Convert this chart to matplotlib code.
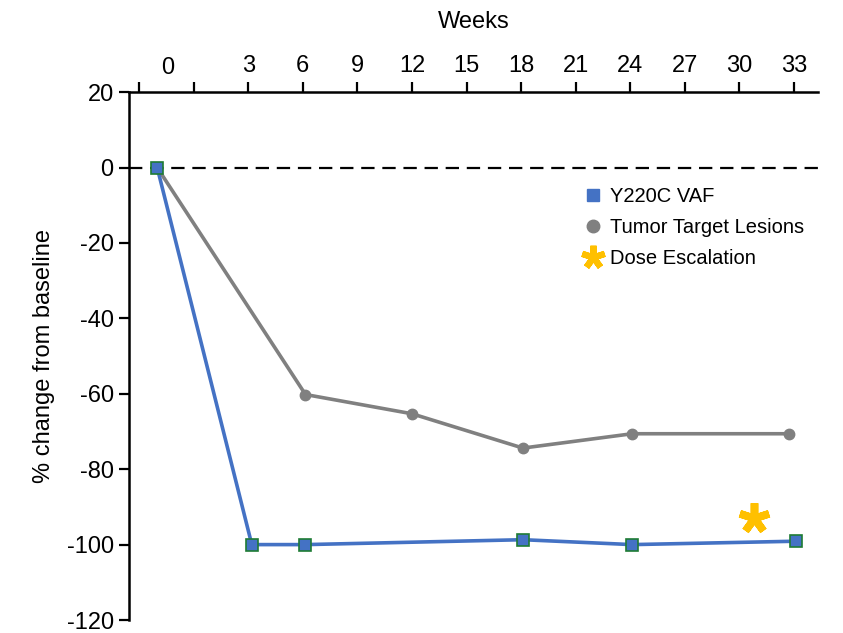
import matplotlib.pyplot as plt
from matplotlib.lines import Line2D

plt.rcParams['font.family'] = ['Liberation Sans', 'DejaVu Sans']
plt.rcParams['axes.unicode_minus'] = False

# weeks (baseline drawn slightly left of week 0, as in the original)
vaf_weeks = [-2.0, 3.2, 6.15, 18.1, 24.1, 33.1]
vaf_change = [0, -100, -100, -98.7, -100, -99.1]

tumor_weeks = [-2.0, 6.15, 12.0, 18.1, 24.1, 32.7]
tumor_change = [0, -60.2, -65.3, -74.4, -70.6, -70.6]

dose_week = [30.8]
dose_y = [-93.0]

week_ticks = [-3, 0, 3, 6, 9, 12, 15, 18, 21, 24, 27, 30, 33]
week_labels = ['', '', '3', '6', '9', '12', '15', '18', '21', '24', '27', '30', '33']
y_ticks = [20, 0, -20, -40, -60, -80, -100, -120]

blue = '#4472C4'
gray = '#808080'
green_edge = '#1E7B34'
gold = '#FFC000'

fig = plt.figure(figsize=(8.43, 6.33), dpi=100)
ax = fig.add_axes([0.153, 0.0205, 0.817, 0.834])

ax.axhline(0, color='black', lw=1.6, ls=(0, (6, 3.5)), zorder=1)

ax.plot(tumor_weeks, tumor_change, color=gray, lw=2.6, marker='o', ms=7.5,
        mfc=gray, mec=gray, zorder=2)
ax.plot(vaf_weeks, vaf_change, color=blue, lw=2.6, marker='s', ms=8.5,
        mfc=blue, mec=green_edge, mew=1.2, zorder=3)
ax.plot(dose_week, dose_y, ls='none', marker=(5, 2, 0), ms=22, mec=gold,
        mew=5.5, zorder=4)

ax.set_xlim(-3.55, 34.3)
ax.set_ylim(-120, 20)

ax.xaxis.tick_top()
ax.xaxis.set_label_position('top')
ax.set_xticks(week_ticks)
ax.set_xticklabels(week_labels)
# the "0" label sits between the first two ticks
ax.set_xticks([-1.4], minor=True)
ax.set_xticklabels(['0'], minor=True)
ax.tick_params(axis='x', which='minor', length=0, labelsize=17, pad=9.5)
ax.set_xlabel('Weeks', fontsize=17, labelpad=19)

ax.set_yticks(y_ticks)
ax.tick_params(axis='both', which='major', labelsize=17, width=1.6,
               length=7.5, direction='out')
ax.set_ylabel('% change from baseline', fontsize=17, labelpad=8)

for side in ['right', 'bottom']:
    ax.spines[side].set_visible(False)
for side in ['left', 'top']:
    ax.spines[side].set_linewidth(1.8)

handles = [
    Line2D([], [], ls='none', marker='s', ms=9, mfc=blue, mec=blue),
    Line2D([], [], ls='none', marker='o', ms=9, mfc=gray, mec=gray),
    Line2D([], [], ls='none', marker=(5, 2, 0), ms=17, mec=gold, mew=4.5),
]
ax.legend(handles, ['Y220C VAF', 'Tumor Target Lesions', 'Dose Escalation'],
          loc='upper left', bbox_to_anchor=(0.65, 0.835), frameon=False,
          fontsize=14.5, handlelength=0.8, handletextpad=0.45, labelspacing=0.6,
          borderaxespad=0)

fig.savefig('out.png', dpi=100)
